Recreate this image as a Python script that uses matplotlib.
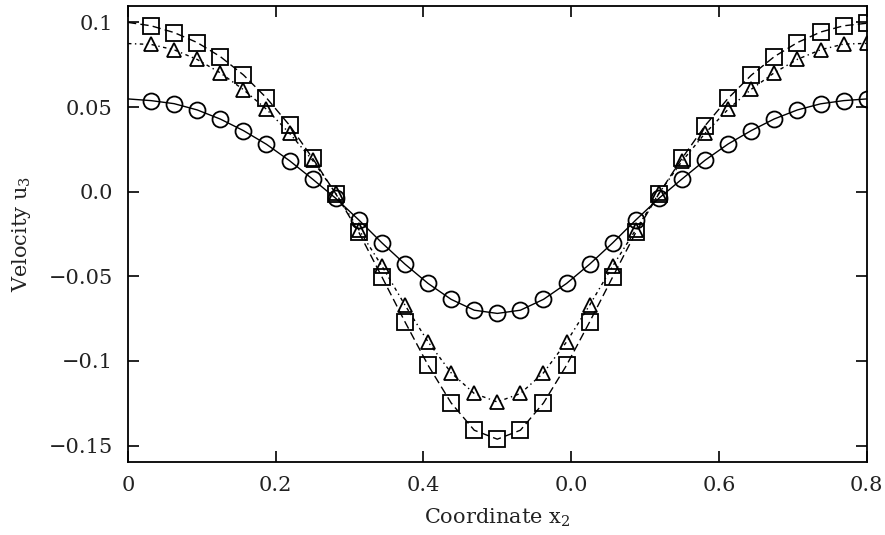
import matplotlib
matplotlib.use("Agg")
import matplotlib.pyplot as plt
import numpy as np

plt.rcParams['font.family'] = ['DejaVu Serif']
plt.rcParams['mathtext.default'] = 'regular'

# coordinate x2 (32 equal intervals over the period)
x2 = [k / 32 for k in range(33)]

circles = [0.0548, 0.0538, 0.0520, 0.0483, 0.0429, 0.0361, 0.0280, 0.0183, 0.0074,
           -0.0039, -0.0167, -0.0302, -0.0428, -0.0542, -0.0636, -0.0700, -0.0719,
           -0.0700, -0.0636, -0.0542, -0.0428, -0.0302, -0.0167, -0.0039, 0.0075,
           0.0186, 0.0282, 0.0361, 0.0430, 0.0483, 0.0519, 0.0538, 0.0548]

triangles = [0.0875, 0.0870, 0.0838, 0.0781, 0.0702, 0.0603, 0.0487, 0.0345, 0.0185,
             -0.0010, -0.0224, -0.0439, -0.0670, -0.0887, -0.1070, -0.1192, -0.1242,
             -0.1192, -0.1070, -0.0887, -0.0670, -0.0439, -0.0224, -0.0010, 0.0180,
             0.0345, 0.0487, 0.0605, 0.0703, 0.0782, 0.0838, 0.0872, 0.0876]

squares = [0.1000, 0.0980, 0.0940, 0.0881, 0.0798, 0.0690, 0.0554, 0.0392, 0.0197,
           -0.0012, -0.0240, -0.0503, -0.0769, -0.1025, -0.1248, -0.1409, -0.1462,
           -0.1409, -0.1248, -0.1025, -0.0769, -0.0503, -0.0240, -0.0012, 0.0197,
           0.0390, 0.0552, 0.0688, 0.0798, 0.0881, 0.0943, 0.0980, 0.0995]

xticks = [0, 0.2, 0.4, 0.6, 0.8, 1.0]
xticklabels = ['0', '0.2', '0.4', '0.0', '0.6', '0.8']
yticks = [-0.15, -0.1, -0.05, 0.0, 0.05, 0.1]
yticklabels = ['\u22120.15', '\u22120.1', '\u22120.05', '0.0', '0.05', '0.1']

fig = plt.figure(figsize=(8.85, 5.35), dpi=100)
ax = fig.add_axes([0.1446, 0.137, 0.9793 - 0.1446, 0.9888 - 0.137])

lw = 1.0
mew = 1.3
txt = '#222222'
ax.plot(x2, circles, color='black', lw=lw, ls='-')
ax.plot(x2[1:], circles[1:], ls='none', marker='o', ms=11.5, mfc='none', mec='black', mew=mew)
ax.plot(x2, triangles, color='black', lw=lw, ls=(0, (2.5, 2.5, 1, 2.5)))
ax.plot(x2[1:], triangles[1:], ls='none', marker='^', ms=10.5, mfc='none', mec='black', mew=mew)
ax.plot(x2, squares, color='black', lw=lw, ls=(0, (6, 3)))
ax.plot(x2[1:], squares[1:], ls='none', marker='s', ms=11.5, mfc='none', mec='black', mew=mew)

ax.set_xlim(0, 1.0)
ax.set_ylim(-0.1595, 0.1097)
ax.set_xticks(xticks)
ax.set_xticklabels(xticklabels)
ax.set_yticks(yticks)
ax.set_yticklabels(yticklabels)
ax.tick_params(direction='in', length=8, width=1.2, top=True, right=True,
               labelsize=15, colors='black', labelcolor=txt)
ax.tick_params(axis='y', pad=11)
ax.tick_params(axis='x', pad=10)
for s in ax.spines.values():
    s.set_linewidth(1.3)

ax.set_xlabel('Coordinate x$_2$', fontsize=15, labelpad=9, color=txt)
ax.set_ylabel('Velocity u$_3$', fontsize=15, labelpad=11, color=txt)

fig.savefig('out.png', dpi=100)
